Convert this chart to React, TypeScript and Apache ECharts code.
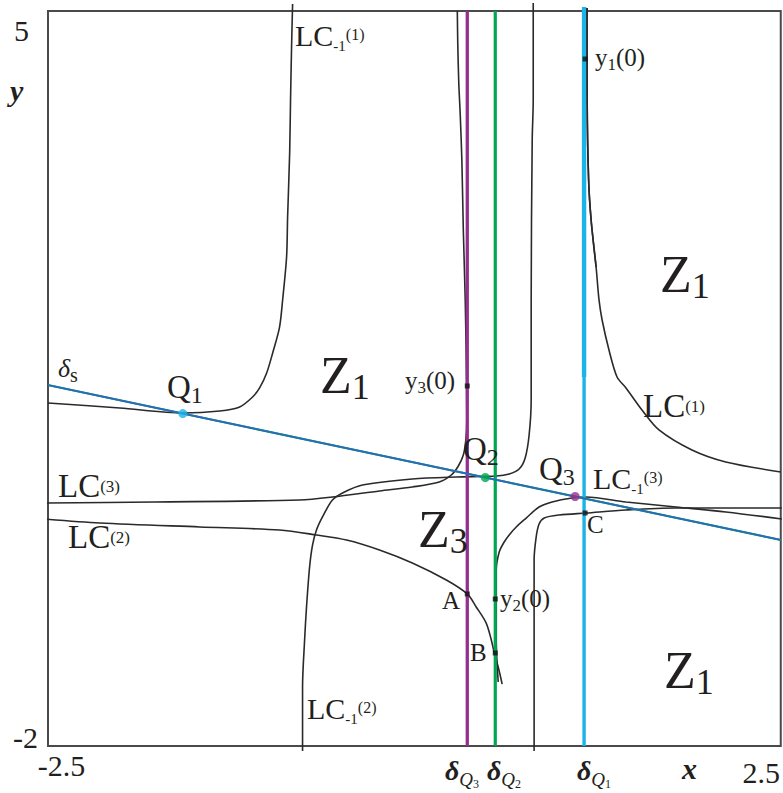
import React, { useEffect, useRef } from "react";
import * as echarts from "echarts";

// Axis extents and the only tick labels that are printed
const xRange = [-2.5, 2.5];
const yRange = [-2, 5];
const xTickValues = [-2.5, 2.5];
const yTickValues = [-2, 5];

// Critical curves (x, y)
const lcMinus1First = [
  [-2.5, 1.267], [-2.01, 1.219], [-1.58, 1.171], [-1.328, 1.19], [-1.192, 1.229],
  [-1.104, 1.324], [-1.056, 1.41], [-1.008, 1.552], [-0.967, 1.743], [-0.92, 1.99],
  [-0.899, 2.248], [-0.872, 2.657], [-0.865, 3.038], [-0.851, 3.648], [-0.845, 4.152],
  [-0.838, 4.657], [-0.831, 5.067],
];
const lcThird = [
  [-2.527, 0.314], [-1.771, 0.324], [-0.783, 0.343], [-0.559, 0.371], [-0.238, 0.429],
  [-0.014, 0.467], [0.17, 0.514], [0.252, 0.581], [0.3, 0.667], [0.334, 0.771],
  [0.351, 0.914], [0.358, 1.105], [0.354, 1.676], [0.347, 2.248], [0.334, 2.914],
  [0.324, 3.581], [0.313, 4.01], [0.303, 4.314], [0.296, 4.695], [0.293, 5.0],
];
const lcMinus1Second = [
  [-0.763, -2.048], [-0.763, -1.438], [-0.749, -0.99], [-0.736, -0.676], [-0.715, -0.295],
  [-0.695, -0.086], [-0.668, 0.057], [-0.627, 0.181], [-0.559, 0.343], [-0.477, 0.419],
  [-0.354, 0.486], [-0.014, 0.543], [0.286, 0.562], [0.559, 0.571], [0.647, 0.59],
  [0.715, 0.638], [0.756, 0.743], [0.783, 0.962], [0.797, 1.295], [0.797, 2.248],
  [0.804, 3.771], [0.811, 4.152], [0.811, 5.076],
];
const lcSecond = [
  [-2.527, 0.162], [-2.146, 0.124], [-1.465, 0.086], [-0.92, 0.057], [-0.668, 0.01],
  [-0.463, -0.038], [-0.238, -0.133], [-0.014, -0.257], [0.218, -0.419], [0.361, -0.552],
  [0.422, -0.676], [0.49, -0.829], [0.525, -0.99], [0.545, -1.114], [0.572, -1.248],
  [0.599, -1.41],
];
const lcMinus1Third = [
  [0.572, -1.39], [0.559, -0.99], [0.559, -0.61], [0.559, -0.324], [0.579, -0.152],
  [0.613, -0.057], [0.647, 0.01], [0.695, 0.086], [0.763, 0.171], [0.851, 0.276],
  [0.94, 0.324], [1.076, 0.362], [1.172, 0.371], [1.444, 0.324], [1.785, 0.276],
  [2.125, 0.229], [2.507, 0.162],
];
const branchThroughC = [
  [0.817, -2.048], [0.817, -1.562], [0.817, -0.61], [0.817, -0.229], [0.831, -0.01],
  [0.851, 0.114], [0.886, 0.171], [0.988, 0.2], [1.172, 0.219], [1.444, 0.248],
  [1.785, 0.267], [2.507, 0.267],
];
const lcFirst = [
  [1.178, 5.029], [1.179, 4.152], [1.189, 3.39], [1.206, 3.01], [1.24, 2.562],
  [1.26, 2.248], [1.281, 2.057], [1.328, 1.771], [1.383, 1.514], [1.444, 1.41],
  [1.553, 1.2], [1.669, 1.01], [1.894, 0.819], [2.125, 0.705], [2.5, 0.61],
];

// Straight lines
const deltaS = [[-2.5, 1.438], [2.5, -0.038]];
const deltaQ1 = 1.158;
const deltaQ2 = 0.552;
const deltaQ3 = 0.361;
const verticalTop = 5.038;
const cyanHeavyEnd = 1.514;

// Fixed points on δs and the marked points on the curves
const Q1 = [-1.58, 1.166];
const Q2 = [0.484, 0.557];
const Q3 = [1.097, 0.376];
const y1Zero = [1.165, 4.543];
const y3Zero = [0.361, 1.429];
const y2Zero = [0.552, -0.6];
const pointA = [0.361, -0.552];
const pointB = [0.552, -1.114];
const pointC = [1.165, 0.219];

const FONT = "'Liberation Serif', 'Times New Roman', Times, serif";
const INK = "#231f20";
const CURVE = "#2a2a2a";
const PURPLE = "#93308f";
const GREEN = "#00a651";
const CYAN = "#1cb3e8";
const BLUE = "#2d68c0";

// main token of a rich label
const mainTok = (F: number, extra: any = {}) => ({
  fontFamily: FONT, fontSize: F, lineHeight: F, height: F, fill: INK, ...extra,
});
// small token whose centre sits d px below the main token's centre
const tok = (F: number, f: number, d: number, extra: any = {}) => ({
  fontFamily: FONT, fontSize: f, height: f, lineHeight: 1, verticalAlign: "top",
  padding: [Math.max(0, d + F / 2 - f / 2), 0, 0, 0], fill: INK, ...extra,
});

const label = (x: number, y: number, text: string, rich: any) => ({
  type: "text",
  x,
  y,
  silent: true,
  z: 100,
  style: { text, rich, fontFamily: FONT, fill: INK, align: "left", verticalAlign: "middle" },
});

const lcMinus = (x: number, y: number, n: string) =>
  label(x, y, `{m|LC}{s|-1}{p|(${n})}`, {
    m: mainTok(30),
    s: tok(30, 15, 11),
    p: tok(30, 16, -1),
  });
const lcPlain = (x: number, y: number, n: string) =>
  label(x, y, `{m|LC}{p|(${n})}`, { m: mainTok(33), p: tok(33, 17, 0) });
const zoneLabel = (x: number, y: number, n: string) =>
  label(x, y, `{m|Z}{s|${n}}`, { m: mainTok(52), s: tok(52, 36, 12) });
const qLabel = (x: number, y: number, n: string) =>
  label(x, y, `{m|Q}{s|${n}}`, { m: mainTok(33), s: tok(33, 24, 8) });
const yZeroLabel = (x: number, y: number, n: string) =>
  label(x, y, `{m|y}{s|${n}}{m|(0)}`, { m: mainTok(25), s: tok(25, 17, 7.7) });
const letter = (x: number, y: number, t: string) =>
  label(x, y, `{m|${t}}`, { m: mainTok(25) });
const deltaQLabel = (x: number, y: number, n: string) =>
  label(x, y, `{d|δ}{q|Q}{n|${n}}`, {
    d: mainTok(28, { fontStyle: "italic", fontWeight: "bold" }),
    q: tok(28, 19, 9, { fontStyle: "italic" }),
    n: tok(28, 12, 14),
  });

const curveSeries = (name: string, data: number[][], z = 2) => ({
  name,
  type: "line",
  data,
  symbol: "none",
  showSymbol: false,
  clip: false,
  smooth: 0.3,
  silent: true,
  z,
  lineStyle: { color: CURVE, width: 1.6 },
});

const straight = (name: string, data: number[][], color: string, width: number, z: number) => ({
  name,
  type: "line",
  data,
  symbol: "none",
  showSymbol: false,
  clip: false,
  silent: true,
  z,
  lineStyle: { color, width },
});

const dots = (name: string, data: number[][], color: string, symbol: string, size: number) => ({
  name,
  type: "scatter",
  data,
  symbol,
  symbolSize: size,
  clip: false,
  silent: true,
  z: 10,
  itemStyle: { color },
});

export default function App() {
  const ref = useRef<HTMLDivElement>(null);

  useEffect(() => {
    if (!ref.current) return;
    const chart = echarts.init(ref.current, undefined, { renderer: "svg" });

    const option: any = {
      animation: false,
      backgroundColor: "#ffffff",
      grid: {
        show: true,
        left: 48,
        right: 1,
        top: 11,
        bottom: 47,
        borderColor: "#4a4a4a",
        borderWidth: 2,
        backgroundColor: "transparent",
      },
      xAxis: {
        type: "value",
        min: xRange[0],
        max: xRange[1],
        axisLine: { show: false },
        axisTick: { show: false },
        splitLine: { show: false },
        axisLabel: {
          customValues: xTickValues,
          margin: 4,
          fontFamily: FONT,
          fontSize: 30,
          color: INK,
          formatter: (v: number) => (v === xTickValues[0] ? `{l|${v}}` : `{r|${v}}`),
          rich: {
            l: { fontFamily: FONT, fontSize: 30, color: INK, padding: [0, 0, 0, 27] },
            r: { fontFamily: FONT, fontSize: 30, color: INK, padding: [7, 39, 0, 0] },
          },
        },
      },
      yAxis: {
        type: "value",
        min: yRange[0],
        max: yRange[1],
        axisLine: { show: false },
        axisTick: { show: false },
        splitLine: { show: false },
        axisLabel: {
          customValues: yTickValues,
          margin: 10,
          fontFamily: FONT,
          fontSize: 30,
          color: INK,
          formatter: (v: number) => (v === yTickValues[1] ? `{t|${v}}` : `{b|${v}}`),
          rich: {
            t: { fontFamily: FONT, fontSize: 30, color: INK, padding: [38, 9, 0, 0] },
            b: { fontFamily: FONT, fontSize: 30, color: INK, padding: [0, 0, 18, 0] },
          },
        },
      },
      series: [
        curveSeries("LC-1(1)", lcMinus1First),
        curveSeries("LC(3)", lcThird),
        curveSeries("LC-1(2)", lcMinus1Second),
        curveSeries("LC(2)", lcSecond),
        curveSeries("LC-1(3)", lcMinus1Third),
        curveSeries("branch C", branchThroughC),
        curveSeries("LC(1)", lcFirst),
        straight("δQ3", [[deltaQ3, yRange[1]], [deltaQ3, yRange[0]]], PURPLE, 3.3, 4),
        straight("δQ2", [[deltaQ2, yRange[1]], [deltaQ2, yRange[0]]], GREEN, 3.2, 4),
        straight("δQ1", [[deltaQ1, verticalTop], [deltaQ1, yRange[0]]], CYAN, 3.4, 4),
        straight("δQ1 upper", [[deltaQ1, verticalTop], [deltaQ1, cyanHeavyEnd]], CYAN, 4.4, 4),
        curveSeries("LC(1) upper", lcFirst.slice(0, 5), 5),
        straight("δs edge", deltaS, GREEN, 2.1, 5),
        straight("δs", deltaS, BLUE, 1.8, 6),
        dots("Q1", [Q1], CYAN, "circle", 9),
        dots("Q2", [Q2], GREEN, "circle", 9),
        dots("Q3", [Q3], PURPLE, "circle", 9),
        dots("marked", [y1Zero, y3Zero, y2Zero, pointA, pointB, pointC], "#111111", "rect", 5),
      ],
      graphic: [
        lcMinus(295, 35, "1"),
        lcMinus(593, 478, "3"),
        lcMinus(307, 708, "2"),
        lcPlain(643, 406, "1"),
        lcPlain(58, 486, "3"),
        lcPlain(68, 537, "2"),
        zoneLabel(320, 375, "1"),
        zoneLabel(660, 274, "1"),
        zoneLabel(418, 529, "3"),
        zoneLabel(664, 670, "1"),
        qLabel(167, 387, "1"),
        qLabel(463, 449, "2"),
        qLabel(539, 469, "3"),
        label(58, 368, "{d|δ}{s|s}", {
          d: mainTok(26, { fontStyle: "italic" }),
          s: tok(26, 20, 7),
        }),
        yZeroLabel(595, 57, "1"),
        yZeroLabel(405, 380, "3"),
        yZeroLabel(500, 598, "2"),
        letter(442, 600, "A"),
        letter(470, 652, "B"),
        letter(587, 524, "C"),
        deltaQLabel(445, 770, "3"),
        deltaQLabel(487, 770, "2"),
        deltaQLabel(577, 770, "1"),
        label(682, 768, "{m|x}", { m: mainTok(30, { fontStyle: "italic", fontWeight: "bold" }) }),
        label(10, 90, "{m|y}", { m: mainTok(30, { fontStyle: "italic", fontWeight: "bold" }) }),
      ],
    };

    chart.setOption(option);
    return () => chart.dispose();
  }, []);

  return (
    <div
      ref={ref}
      style={{ position: "absolute", left: 0, top: 0, width: 783, height: 793 }}
    />
  );
}
